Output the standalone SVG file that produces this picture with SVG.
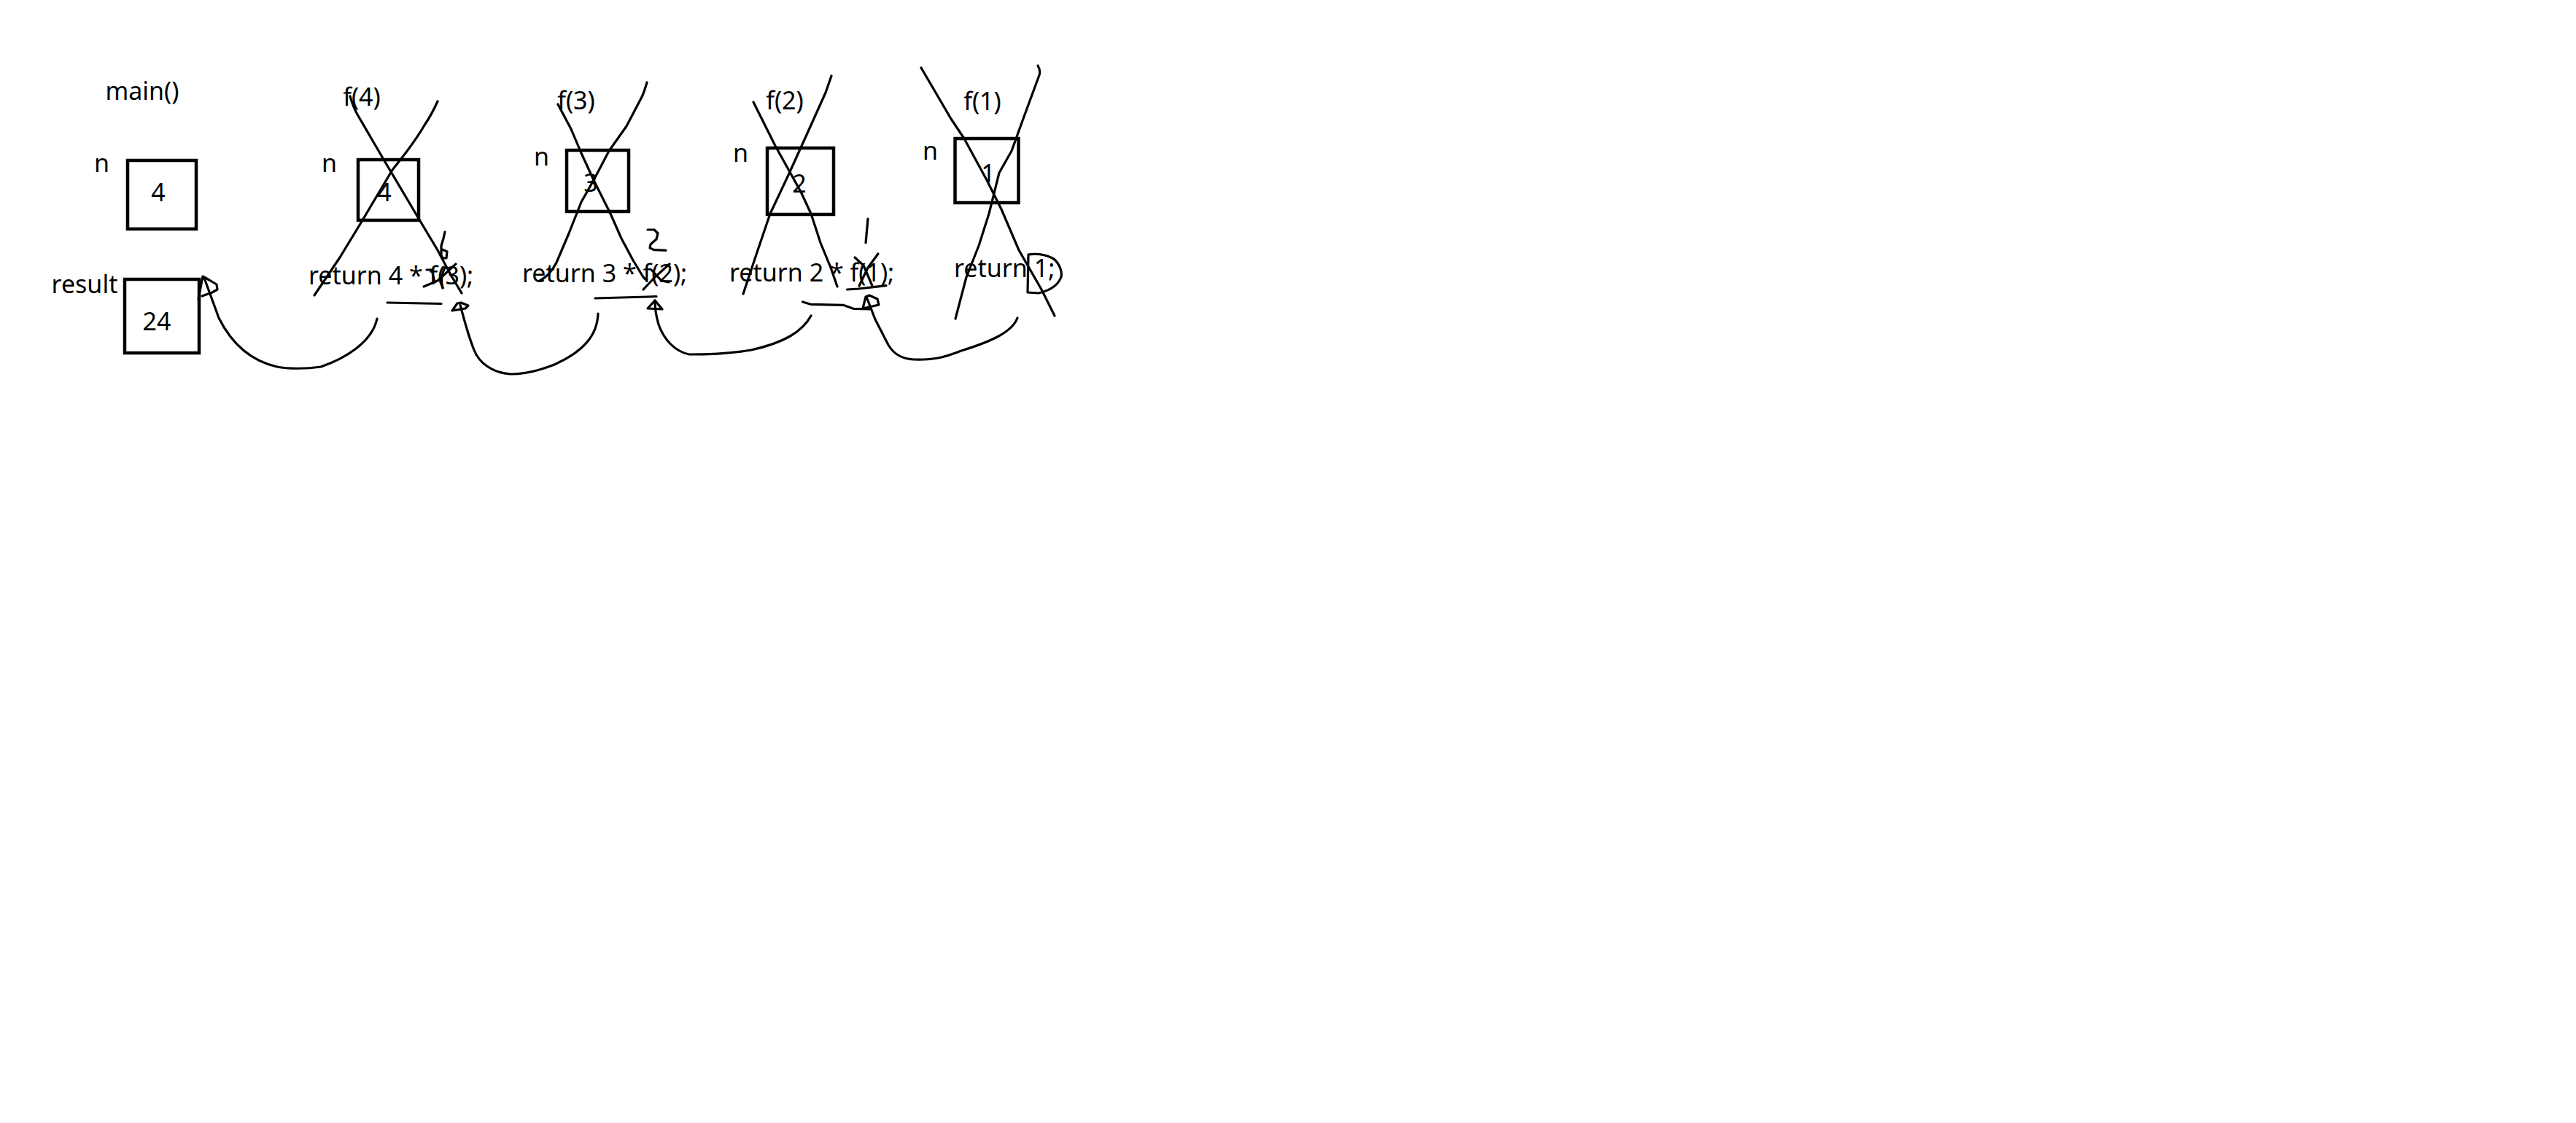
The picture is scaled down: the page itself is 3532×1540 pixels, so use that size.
<svg xmlns="http://www.w3.org/2000/svg" width="3532" height="1540" viewBox="0 0 3532 1540">
<style>
text{font-family:"Noto Sans","Open Sans","Liberation Sans",sans-serif;font-size:34px;fill:#000}
.c{text-anchor:middle}
.box{fill:none;stroke:#000;stroke-width:4.5}
.pen{fill:none;stroke:#000;stroke-width:3.2;stroke-linecap:round;stroke-linejoin:round}
</style>
<rect width="3532" height="1540" fill="#fff"/>
<g id="main">
<text x="195" y="137" class="c">main()</text>
<text x="129" y="236">n</text>
<rect x="175" y="220" width="94" height="94" class="box"/>
<text x="217" y="276" class="c">4</text>
<text x="116" y="402" class="c">result</text>
<rect x="171" y="383" width="102" height="101" class="box"/>
<text x="215" y="453" class="c">24</text>
</g>
<g id="f4">
<text x="496" y="145" class="c">f(4)</text>
<text x="441" y="236">n</text>
<rect x="491" y="219" width="83" height="83" class="box"/>
<text x="527" y="276" class="c">4</text>
<text x="423" y="390">return 4 * f(3);</text>
<path class="pen" d="M480,132 C483,142 486,150 490,157 L525,217 L576,303 L600,343 L618,377 L633,402"/>
<path class="pen" d="M600,139 C595,150 590,160 583,170 C575,184 565,198 556,210 L538,233 L494,307 L466,353 L431,405"/>
<path class="pen" d="M610,318 L608,327 L605,337 L605,350 L607,354 L612,354 L613,345 L606,342"/>
<path class="pen" d="M581,393 L600,385 L625,362"/>
<path class="pen" d="M585,370 L592,370 L596,387"/>
<path class="pen" d="M610,367 Q603,380 607,395"/>
<path class="pen" d="M531,415 L605,416.5"/>
</g>
<g id="f3">
<text x="790" y="150" class="c">f(3)</text>
<text x="732" y="227">n</text>
<rect x="777" y="206" width="85" height="84" class="box"/>
<text x="810" y="263" class="c">3</text>
<text x="716" y="387">return 3 * f(2);</text>
<path class="pen" d="M765,143 L783,177 L797,210 L814,247 L837,293 L852,327 L868,357 L882,380 L885,383"/>
<path class="pen" d="M887,113 C885,120 883,127 880,133 L859,173 L835,207 L814,247 L797,277 L780,320 L763,360 C757,372 750,380 740,385"/>
<path class="pen" d="M888,315 L897,315 L902,320 L900,328 L892,335 L891,340 L897,342.7 L913,343.3"/>
<path class="pen" d="M882,397 L898,380 L918,362"/>
<path class="pen" d="M893,370 L907,385 L917,387"/>
<path class="pen" d="M816,409 L888,407 L900,406.5"/>
</g>
<g id="f2">
<text x="1076" y="150" class="c">f(2)</text>
<text x="1005" y="222">n</text>
<rect x="1052" y="203" width="91" height="91" class="box"/>
<text x="1096" y="264" class="c">2</text>
<text x="1000" y="386">return 2 * f(1);</text>
<path class="pen" d="M1033,140 L1043,160 L1063,200 L1098,263 L1112,293 L1125,333 L1139,367 L1148,393"/>
<path class="pen" d="M1140,104 L1132,127 L1105,187 L1081,240 L1056,293 L1039,343 L1019,403"/>
<path class="pen" d="M1190,300 L1187,333"/>
<path class="pen" d="M1172,353 L1184,364 L1196,392"/>
<path class="pen" d="M1204,348 L1190,367 L1178,392"/>
<path class="pen" d="M1161.5,397 L1177,396 L1200,393.3 L1215,391.7"/>
<path class="pen" d="M1100.5,414 L1111.5,417.3 L1156,418.3 L1170,423.3 L1194,424"/>
</g>
<g id="f1">
<text x="1347" y="151" class="c">f(1)</text>
<text x="1265" y="219">n</text>
<rect x="1309.5" y="190" width="87" height="88" class="box"/>
<text x="1355" y="250" class="c">1</text>
<text x="1308" y="380">return 1;</text>
<path class="pen" d="M1263,93 L1304,163 L1322,190 L1353,247 L1373,287 L1397,343 L1428,397 L1446,433"/>
<path class="pen" d="M1423,90 C1426,95 1426,100 1425,103 L1404,160 L1387,207 L1370,237 L1356,293 L1342,337 L1325,380 L1310,437"/>
<path class="pen" d="M1410,349 L1409,401 L1424,402 C1440,398 1450,392 1455,380 C1457,370 1450,358 1443,354 C1435,350 1425,347 1410,349"/>
</g>
<g id="connectors">
<path class="pen" d="M517,437 C510,470 472,492 440,503 C420,506 395,506 380,503 C340,494 315,466 300,436 L280,381"/>
<path class="pen" d="M272,410 L278,379 L287,384 L297,390 L298,397 L291,401 L277,406"/>
<path class="pen" d="M820,430 C819,460 800,482 760,500 C735,510 715,513 700,513 C675,511 657,498 650,480 C644,465 638,445 631,418"/>
<path class="pen" d="M620,426 L627,416 L632,415 L642,419 L638,423 Z"/>
<path class="pen" d="M1112,433 C1100,455 1075,470 1030,480 C1000,485 970,486 945,486 C925,482 910,465 903,445 C900,435 898,420 898,412"/>
<path class="pen" d="M888,423 L898,412 L908,424 Z"/>
<path class="pen" d="M1395,436 C1388,455 1360,468 1318,481 C1295,490 1280,494 1253,493 C1235,492 1225,485 1218,473 L1200,438 L1188,407"/>
<path class="pen" d="M1183,423 L1187,407 L1192,405 L1203,410 L1205,418 Z"/>
</g>
</svg>
